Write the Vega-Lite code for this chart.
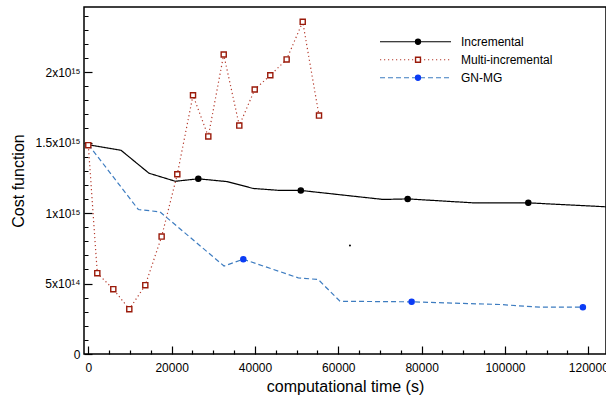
{
  "$schema": "https://vega.github.io/schema/vega-lite/v6.json",
  "width": 522,
  "height": 347,
  "autosize": {"type": "none"},
  "padding": {"left": 84, "top": 7, "right": 0, "bottom": 42},
  "background": "white",
  "config": {
    "font": "Liberation Sans",
    "view": {"stroke": "black", "strokeWidth": 1.5},
    "axis": {"grid": false, "labelColor": "black", "titleColor": "black", "tickColor": "black", "domain": false, "tickWidth": 1.2, "labelFont": "Liberation Sans", "titleFont": "Liberation Sans", "titleFontWeight": "normal"},
    "legend": {"labelFont": "Liberation Sans", "labelColor": "black"}
  },
  "datasets": {
    "lines": [
      {"series": "Incremental", "t": 0, "v": 1.484e15},
      {"series": "Incremental", "t": 7850, "v": 1.445e15},
      {"series": "Incremental", "t": 14570, "v": 1.282e15},
      {"series": "Incremental", "t": 20900, "v": 1.225e15},
      {"series": "Incremental", "t": 26400, "v": 1.2425e15},
      {"series": "Incremental", "t": 33200, "v": 1.223e15},
      {"series": "Incremental", "t": 39600, "v": 1.174e15},
      {"series": "Incremental", "t": 46000, "v": 1.16e15},
      {"series": "Incremental", "t": 51000, "v": 1.16e15},
      {"series": "Incremental", "t": 70800, "v": 1.096e15},
      {"series": "Incremental", "t": 76650, "v": 1.1e15},
      {"series": "Incremental", "t": 92400, "v": 1.072e15},
      {"series": "Incremental", "t": 98800, "v": 1.072e15},
      {"series": "Incremental", "t": 105600, "v": 1.072e15},
      {"series": "Incremental", "t": 124200, "v": 1.044e15},
      {"series": "Multi-incremental", "t": 0, "v": 1.481e15},
      {"series": "Multi-incremental", "t": 2160, "v": 5.73e14},
      {"series": "Multi-incremental", "t": 6000, "v": 4.6e14},
      {"series": "Multi-incremental", "t": 9840, "v": 3.18e14},
      {"series": "Multi-incremental", "t": 13680, "v": 4.88e14},
      {"series": "Multi-incremental", "t": 17600, "v": 8.33e14},
      {"series": "Multi-incremental", "t": 21360, "v": 1.275e15},
      {"series": "Multi-incremental", "t": 25130, "v": 1.835e15},
      {"series": "Multi-incremental", "t": 28800, "v": 1.543e15},
      {"series": "Multi-incremental", "t": 32500, "v": 2.124e15},
      {"series": "Multi-incremental", "t": 36240, "v": 1.62e15},
      {"series": "Multi-incremental", "t": 39940, "v": 1.876e15},
      {"series": "Multi-incremental", "t": 43680, "v": 1.977e15},
      {"series": "Multi-incremental", "t": 47600, "v": 2.089e15},
      {"series": "Multi-incremental", "t": 51460, "v": 2.356e15},
      {"series": "Multi-incremental", "t": 55370, "v": 1.691e15},
      {"series": "GN-MG", "t": 0, "v": 1.486e15},
      {"series": "GN-MG", "t": 12000, "v": 1.025e15},
      {"series": "GN-MG", "t": 17200, "v": 1.008e15},
      {"series": "GN-MG", "t": 32570, "v": 6.24e14},
      {"series": "GN-MG", "t": 37200, "v": 6.72e14},
      {"series": "GN-MG", "t": 50400, "v": 5.4e14},
      {"series": "GN-MG", "t": 55200, "v": 5.28e14},
      {"series": "GN-MG", "t": 60400, "v": 3.74e14},
      {"series": "GN-MG", "t": 77600, "v": 3.7e14},
      {"series": "GN-MG", "t": 98800, "v": 3.51e14},
      {"series": "GN-MG", "t": 108400, "v": 3.32e14},
      {"series": "GN-MG", "t": 118700, "v": 3.32e14}
    ],
    "markers": [
      {"series": "Incremental", "t": 26400, "v": 1.2425e15},
      {"series": "Incremental", "t": 51000, "v": 1.16e15},
      {"series": "Incremental", "t": 76650, "v": 1.1e15},
      {"series": "Incremental", "t": 105600, "v": 1.072e15},
      {"series": "Multi-incremental", "t": 0, "v": 1.481e15},
      {"series": "Multi-incremental", "t": 2160, "v": 5.73e14},
      {"series": "Multi-incremental", "t": 6000, "v": 4.6e14},
      {"series": "Multi-incremental", "t": 9840, "v": 3.18e14},
      {"series": "Multi-incremental", "t": 13680, "v": 4.88e14},
      {"series": "Multi-incremental", "t": 17600, "v": 8.33e14},
      {"series": "Multi-incremental", "t": 21360, "v": 1.275e15},
      {"series": "Multi-incremental", "t": 25130, "v": 1.835e15},
      {"series": "Multi-incremental", "t": 28800, "v": 1.543e15},
      {"series": "Multi-incremental", "t": 32500, "v": 2.124e15},
      {"series": "Multi-incremental", "t": 36240, "v": 1.62e15},
      {"series": "Multi-incremental", "t": 39940, "v": 1.876e15},
      {"series": "Multi-incremental", "t": 43680, "v": 1.977e15},
      {"series": "Multi-incremental", "t": 47600, "v": 2.089e15},
      {"series": "Multi-incremental", "t": 51460, "v": 2.356e15},
      {"series": "Multi-incremental", "t": 55370, "v": 1.691e15},
      {"series": "GN-MG", "t": 37200, "v": 6.72e14},
      {"series": "GN-MG", "t": 77600, "v": 3.7e14},
      {"series": "GN-MG", "t": 118700, "v": 3.32e14}
    ],
    "stray": [
      {"t": 62800, "v": 7.7e14}
    ]
  },
  "layer": [
    {
      "data": {"name": "lines"},
      "mark": {"type": "line", "strokeWidth": 1.2, "clip": true},
      "encoding": {
        "x": {
          "field": "t", "type": "quantitative",
          "scale": {"domain": [-1032, 124248], "nice": false, "zero": false},
          "axis": {
            "values": [0, 5000, 10000, 15000, 20000, 25000, 30000, 35000, 40000, 45000, 50000, 55000, 60000, 65000, 70000, 75000, 80000, 85000, 90000, 95000, 100000, 105000, 110000, 115000, 120000],
            "tickCount": 100,
            "labelExpr": "datum.value % 20000 === 0 ? format(datum.value, 'd') : ''",
            "offset": -8,
            "tickSize": 8,
            "tickDash": {"condition": {"test": "datum.value % 20000 === 0", "value": [8, 0]}, "value": [0, 4, 4, 30]},
            "labelPadding": 8,
            "labelFontSize": 12,
            "labelFlush": false,
            "labelOverlap": false,
            "title": "computational time (s)",
            "titleFontSize": 16,
            "titleX": 261,
            "titleY": 45,
            "titleAlign": "center",
            "titleBaseline": "alphabetic"
          }
        },
        "y": {
          "field": "v", "type": "quantitative",
          "scale": {"domain": [0, 2.461e15], "nice": false, "zero": false},
          "axis": {
            "values": [0, 1e14, 2e14, 3e14, 4e14, 5e14, 6e14, 7e14, 8e14, 9e14, 1e15, 1.1e15, 1.2e15, 1.3e15, 1.4e15, 1.5e15, 1.6e15, 1.7e15, 1.8e15, 1.9e15, 2e15, 2.1e15, 2.2e15, 2.3e15, 2.4e15],
            "tickCount": 100,
            "labelExpr": "datum.value === 0 ? '0' : (round(datum.value / 1e14) % 5 !== 0 ? '' : (datum.value < 1e15 ? '5x10¹⁴' : (datum.value / 1e15) + 'x10¹⁵'))",
            "offset": -8,
            "tickSize": 8,
            "tickDash": {"condition": {"test": "round(datum.value / 1e14) % 5 === 0", "value": [8, 0]}, "value": [0, 4, 4, 30]},
            "labelPadding": 4,
            "labelFontSize": 12,
            "labelFlush": false,
            "labelOverlap": false,
            "title": "Cost function",
            "titleFontSize": 16,
            "titleAngle": 270,
            "titleX": -69,
            "titleY": 173.5,
            "titleAlign": "center",
            "titleBaseline": "alphabetic"
          }
        },
        "stroke": {
          "field": "series", "type": "nominal",
          "scale": {"domain": ["Incremental", "Multi-incremental", "GN-MG"], "range": ["#000000", "#b53a2c", "#3d7cc0"]},
          "legend": {
            "title": null, "orient": "none", "legendX": 295, "legendY": 27, "padding": 0,
            "symbolType": "stroke", "symbolSize": 5041, "symbolStrokeWidth": 1.2,
            "clipHeight": 15.5, "rowPadding": 2, "labelFontSize": 12, "labelOffset": 9
          }
        },
        "strokeDash": {
          "field": "series", "type": "nominal",
          "scale": {"domain": ["Incremental", "Multi-incremental", "GN-MG"], "range": [[1, 0], [1.2, 2.8], [5, 3]]},
          "legend": {
            "title": null, "orient": "none", "legendX": 295, "legendY": 27, "padding": 0,
            "symbolType": "stroke", "symbolSize": 5041, "symbolStrokeWidth": 1.2,
            "clipHeight": 15.5, "rowPadding": 2, "labelFontSize": 12, "labelOffset": 9
          }
        }
      }
    },
    {
      "data": {"name": "markers"},
      "mark": {"type": "point", "filled": true, "opacity": 1, "size": 26, "strokeWidth": 1.4, "clip": true},
      "encoding": {
        "x": {"field": "t", "type": "quantitative"},
        "y": {"field": "v", "type": "quantitative"},
        "fill": {
          "field": "series", "type": "nominal",
          "scale": {"domain": ["Incremental", "Multi-incremental", "GN-MG"], "range": ["#000000", "#ffffff", "#0b3cf5"]},
          "legend": {
            "title": null, "orient": "none", "legendX": 328, "legendY": 27, "padding": 0,
            "symbolSize": 24, "symbolStrokeWidth": 1.4, "symbolOpacity": 1, "symbolFillColor": "white",
            "clipHeight": 15.5, "rowPadding": 2, "labelExpr": "''", "labelFontSize": 12
          }
        },
        "stroke": {
          "field": "series", "type": "nominal",
          "scale": {"domain": ["Incremental", "Multi-incremental", "GN-MG"], "range": ["#000000", "#9a1a0a", "#0b3cf5"]},
          "legend": {
            "title": null, "orient": "none", "legendX": 328, "legendY": 27, "padding": 0,
            "symbolSize": 24, "symbolStrokeWidth": 1.4, "symbolOpacity": 1, "symbolFillColor": "white",
            "clipHeight": 15.5, "rowPadding": 2, "labelExpr": "''", "labelFontSize": 12
          }
        },
        "shape": {
          "field": "series", "type": "nominal",
          "scale": {"domain": ["Incremental", "Multi-incremental", "GN-MG"], "range": ["circle", "square", "circle"]},
          "legend": {
            "title": null, "orient": "none", "legendX": 328, "legendY": 27, "padding": 0,
            "symbolSize": 24, "symbolStrokeWidth": 1.4, "symbolOpacity": 1, "symbolFillColor": "white",
            "clipHeight": 15.5, "rowPadding": 2, "labelExpr": "''", "labelFontSize": 12
          }
        }
      }
    },
    {
      "data": {"name": "stray"},
      "mark": {"type": "point", "filled": true, "opacity": 1, "size": 4, "color": "black"},
      "encoding": {
        "x": {"field": "t", "type": "quantitative"},
        "y": {"field": "v", "type": "quantitative"}
      }
    }
  ],
  "resolve": {"scale": {"stroke": "independent", "strokeDash": "independent", "fill": "independent", "shape": "independent"}}
}
